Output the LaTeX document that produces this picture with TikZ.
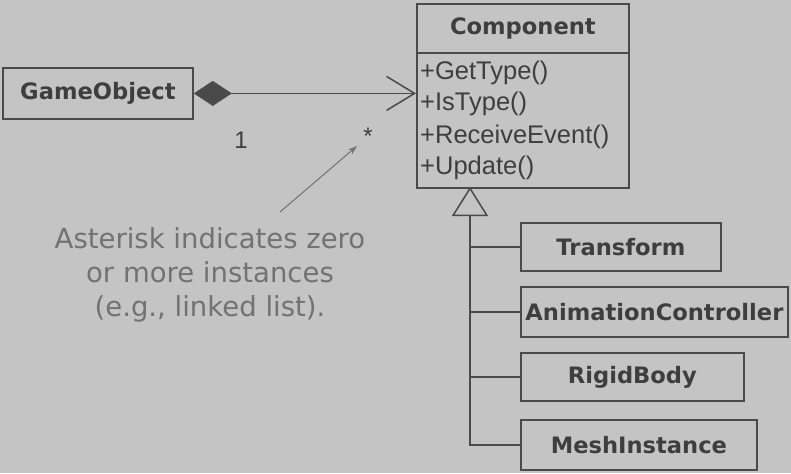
\documentclass[tikz,border=0pt]{standalone}
\usepackage{fontspec}
\setmainfont{Liberation Sans}
\newfontfamily\dejavu{DejaVu Sans}
\usetikzlibrary{arrows.meta}
\definecolor{paper}{HTML}{C4C4C4}
\definecolor{ink}{HTML}{3E3E3E}
\definecolor{rule}{HTML}{4A4A4A}
\definecolor{notegray}{HTML}{727272}
\tikzset{
  cls/.style={draw=rule, line width=1.8pt, inner sep=0pt, anchor=north west,
    font=\dejavu\bfseries\fontsize{22.6}{26}\selectfont, text=ink},
  meth/.style={anchor=base west, inner sep=0pt,
    font=\fontsize{25.5}{29}\selectfont, text=ink},
  wire/.style={draw=rule, line width=1.5pt},
  note/.style={align=center, text=notegray, inner sep=0pt,
    font=\dejavu\fontsize{27.5}{34}\selectfont},
  mult/.style={text=ink, inner sep=0pt, font=\fontsize{24}{28}\selectfont}
}
\begin{document}
\begin{tikzpicture}[x=1pt,y=-1pt]
  \fill[paper] (0,0) rectangle (791,473);
  \useasboundingbox (0,0) rectangle (791,473);

  % classes
  \node[cls, minimum width=190pt, minimum height=51pt] (game) at (2,67) {GameObject};
  \node[cls, minimum width=212pt, minimum height=49pt] (comphead) at (416,3) {Component};
  \node[cls, minimum width=212pt, minimum height=135pt] (compbody) at (416,52) {};
  \node[meth] (m1) at (420,80) {+GetType()};
  \node[meth] (m2) at (420,111) {+IsType()};
  \node[meth] (m3) at (420,143) {+ReceiveEvent()};
  \node[meth] (m4) at (420,175) {+Update()};

  \node[cls, minimum width=200pt, minimum height=48pt] (transform) at (520,222) {Transform};
  \node[cls, minimum width=267pt, minimum height=50pt] (anim) at (520,286) {AnimationController};
  \node[cls, minimum width=223pt, minimum height=48pt] (rigid) at (520,352) {RigidBody};
  \node[cls, minimum width=236pt, minimum height=50pt] (mesh) at (520,419) {MeshInstance};

  % composition: GameObject owns many Components
  \draw[wire, {Diamond[length=38pt,width=25pt,fill=rule]}-{Straight Barb[length=28pt,width=34pt]}]
    (game.east) -- (game.east -| compbody.west);
  \node[mult] (one) at (241,140) {1};
  \node[mult] (many) at (368,136) {*};

  % inheritance tree
  \coordinate (apex) at (470,187);
  \draw[wire, -{Triangle[open,length=29pt,width=36pt]}] (mesh.west) -| (apex);
  \draw[wire] (transform.west) -- (transform.west -| apex);
  \draw[wire] (anim.west) -- (anim.west -| apex);
  \draw[wire] (rigid.west) -- (rigid.west -| apex);

  % annotation
  \node[note] (note) at (210,275) {Asterisk indicates zero\\or more instances\\(e.g., linked list).};
  \coordinate (notetip) at (280,212);
  \coordinate (starpt) at (357,146);
  \draw[draw=notegray, line width=1pt, -{Stealth[length=9pt,width=6pt]}] (notetip) -- (starpt);
\end{tikzpicture}
\end{document}
